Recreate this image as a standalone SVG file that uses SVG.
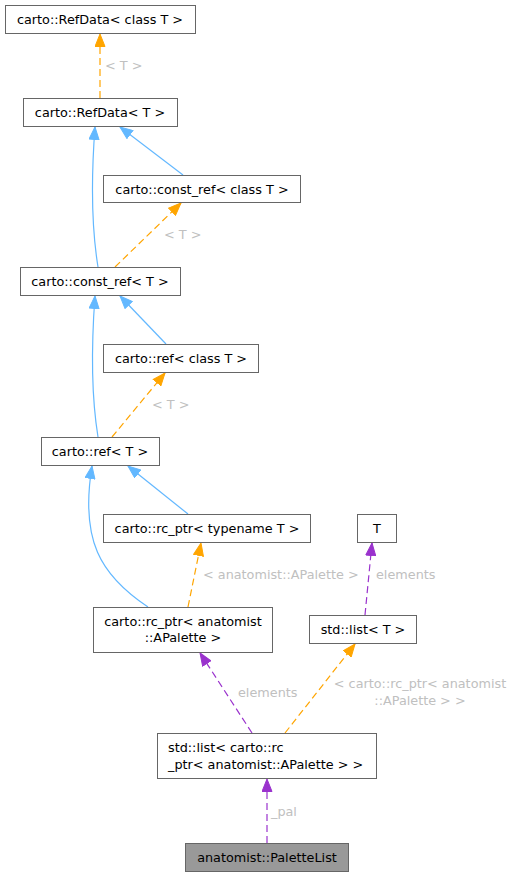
<svg xmlns="http://www.w3.org/2000/svg" width="512" height="876" viewBox="0 0 512 876">
<style>
.n rect{fill:#fff;stroke:#666;stroke-width:1}
.n text{font-family:"DejaVu Sans",sans-serif;font-size:12.8px;fill:#000;text-anchor:middle}
.e path{fill:none;stroke-width:1.2}
.b{stroke:#63b8ff}
.o{stroke:#ffa500;stroke-dasharray:7,4}
.p{stroke:#9a32cd;stroke-dasharray:7,4}
.l{font-family:"DejaVu Sans",sans-serif;font-size:12.8px;fill:#c0c0c0}
</style>
<defs>
<marker id="ab" markerUnits="userSpaceOnUse" markerWidth="14" markerHeight="11" refX="13" refY="5.5" orient="auto"><path d="M0.5,0.5 L13,5.5 L0.5,10.5 z" fill="#63b8ff" stroke="#63b8ff"/></marker>
<marker id="ao" markerUnits="userSpaceOnUse" markerWidth="14" markerHeight="11" refX="13" refY="5.5" orient="auto"><path d="M0.5,0.5 L13,5.5 L0.5,10.5 z" fill="#ffa500" stroke="#ffa500"/></marker>
<marker id="ap" markerUnits="userSpaceOnUse" markerWidth="14" markerHeight="11" refX="13" refY="5.5" orient="auto"><path d="M0.5,0.5 L13,5.5 L0.5,10.5 z" fill="#9a32cd" stroke="#9a32cd"/></marker>
</defs>
<rect width="512" height="876" fill="#fff"/>
<g id="edges" class="e">
<path class="o" d="M100,98 L100,34" marker-end="url(#ao)"/>
<path class="b" d="M98,267 C92,230 91,180 95,127" marker-end="url(#ab)"/>
<path class="b" d="M183,175 L120,127" marker-end="url(#ab)"/>
<path class="o" d="M115,267 L181,203" marker-end="url(#ao)"/>
<path class="b" d="M98,437 C92,400 91,350 95,296" marker-end="url(#ab)"/>
<path class="b" d="M166,344 L120,296" marker-end="url(#ab)"/>
<path class="o" d="M112,437 L165,373" marker-end="url(#ao)"/>
<path class="b" d="M148,607 C100,575 80,540 92,466" marker-end="url(#ab)"/>
<path class="b" d="M188,514 L128,466" marker-end="url(#ab)"/>
<path class="o" d="M188,607 L201,543" marker-end="url(#ao)"/>
<path class="p" d="M365,615 L372,543" marker-end="url(#ap)"/>
<path class="p" d="M252,733 L200,653" marker-end="url(#ap)"/>
<path class="o" d="M285,733 L355,644" marker-end="url(#ao)"/>
<path class="p" d="M267,843 L267,779" marker-end="url(#ap)"/>
<text class="l" x="105" y="69.5">&lt; T &gt;</text>
<text class="l" x="164" y="238.5">&lt; T &gt;</text>
<text class="l" x="152" y="408.5">&lt; T &gt;</text>
<text class="l" x="203" y="578.5">&lt; anatomist::APalette &gt;</text>
<text class="l" x="376" y="578.5">elements</text>
<text class="l" x="238" y="696.5">elements</text>
<text class="l" x="420" y="687.5" text-anchor="middle">&lt; carto::rc_ptr&lt; anatomist</text>
<text class="l" x="420" y="704.5" text-anchor="middle">::APalette &gt; &gt;</text>
<text class="l" x="271" y="815.5">_pal</text>
</g>
<g id="n1" class="n"><rect x="5.5" y="5.5" width="190" height="28"/><text x="100" y="23.5">carto::RefData&lt; class T &gt;</text></g>
<g id="n2" class="n"><rect x="23.5" y="98.5" width="154" height="28"/><text x="100" y="116.5">carto::RefData&lt; T &gt;</text></g>
<g id="n3" class="n"><rect x="103.5" y="175.5" width="197" height="27"/><text x="202" y="193.5">carto::const_ref&lt; class T &gt;</text></g>
<g id="n4" class="n"><rect x="20.5" y="267.5" width="160" height="28"/><text x="100" y="285.5">carto::const_ref&lt; T &gt;</text></g>
<g id="n5" class="n"><rect x="103.5" y="344.5" width="155" height="28"/><text x="181" y="362.5">carto::ref&lt; class T &gt;</text></g>
<g id="n6" class="n"><rect x="41.5" y="437.5" width="118" height="28"/><text x="100" y="455.5">carto::ref&lt; T &gt;</text></g>
<g id="n7" class="n"><rect x="103.5" y="514.5" width="207" height="28"/><text x="207" y="532.5">carto::rc_ptr&lt; typename T &gt;</text></g>
<g id="n8" class="n"><rect x="357.5" y="514.5" width="39" height="28"/><text x="377" y="532.5">T</text></g>
<g id="n9" class="n"><rect x="93.5" y="607.5" width="179" height="45"/><text x="183" y="625.5">carto::rc_ptr&lt; anatomist</text><text x="183" y="641.5">::APalette &gt;</text></g>
<g id="n10" class="n"><rect x="309.5" y="615.5" width="107" height="28"/><text x="363" y="633.5">std::list&lt; T &gt;</text></g>
<g id="n11" class="n"><rect x="157.5" y="733.5" width="219" height="45"/><text x="168" y="751.5" style="text-anchor:start">std::list&lt; carto::rc</text><text x="168" y="768.5" style="text-anchor:start">_ptr&lt; anatomist::APalette &gt; &gt;</text></g>
<g id="n12" class="n"><rect x="185.5" y="843.5" width="163" height="28" style="fill:#999"/><text x="267" y="861.5">anatomist::PaletteList</text></g>
</svg>
